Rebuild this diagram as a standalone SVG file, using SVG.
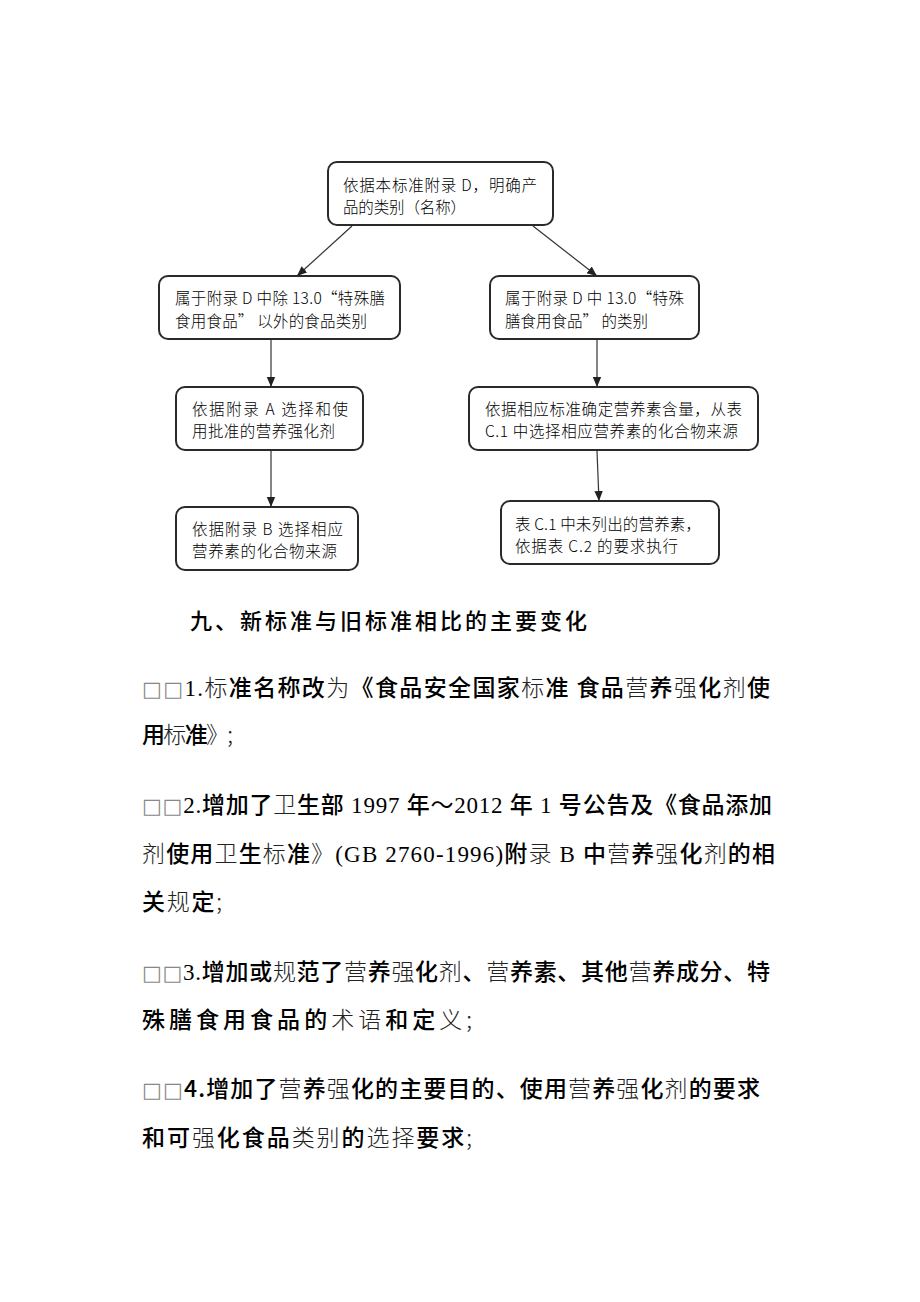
<svg xmlns="http://www.w3.org/2000/svg" width="920" height="1302" viewBox="0 0 920 1302">
<defs>
<marker id="ah" markerUnits="userSpaceOnUse" markerWidth="10" markerHeight="10" viewBox="0 0 10 10" refX="10" refY="5" orient="auto">
<path d="M0,0.8 L10,5 L0,9.2 Z" fill="#222"/>
</marker>
<style>
.box{fill:#fff;stroke:#2a2a2a;stroke-width:2}
.nt{font-family:"Noto Sans CJK SC","Liberation Sans",sans-serif;font-size:15.5px;font-weight:300;fill:#000}
.con{stroke:#333;stroke-width:1.2;fill:none;marker-end:url(#ah)}
.body{font-family:"Noto Sans CJK SC","Liberation Sans",sans-serif;font-size:23px;fill:#000}
.b{font-weight:500}
.t{font-weight:300;fill:#222}
.s{font-family:"Liberation Serif","Noto Sans CJK SC",serif;font-weight:400}
.q{font-family:"DejaVu Sans",sans-serif;font-size:21px;fill:#888}
</style>
</defs>
<rect width="920" height="1302" fill="#fff"/>

<g id="connectors">
<line class="con" x1="352" y1="226" x2="297" y2="276"/>
<line class="con" x1="533" y1="226" x2="597" y2="276"/>
<line class="con" x1="271" y1="340" x2="271" y2="387"/>
<line class="con" x1="597" y1="340" x2="597" y2="387"/>
<line class="con" x1="271" y1="451" x2="271" y2="507"/>
<line class="con" x1="597" y1="451" x2="599" y2="501"/>
</g>

<g id="n-top">
<rect class="box" x="328" y="162" width="225" height="63" rx="9"/>
<text class="nt" x="343" y="191" textLength="194" lengthAdjust="spacing">依据本标准附录 D，明确产</text>
<text class="nt" x="343" y="213" textLength="123" lengthAdjust="spacing">品的类别（名称）</text>
</g>

<g id="n-left2">
<rect class="box" x="159" y="276" width="241" height="63" rx="9"/>
<text class="nt" x="175" y="304" textLength="210" lengthAdjust="spacing">属于附录 D 中除 13.0“特殊膳</text>
<text class="nt" x="175" y="327" textLength="192" lengthAdjust="spacing">食用食品” 以外的食品类别</text>
</g>

<g id="n-right2">
<rect class="box" x="490" y="276" width="209" height="63" rx="9"/>
<text class="nt" x="505" y="304" textLength="179" lengthAdjust="spacing">属于附录 D 中 13.0“特殊</text>
<text class="nt" x="505" y="327" textLength="143" lengthAdjust="spacing">膳食用食品” 的类别</text>
</g>

<g id="n-left3">
<rect class="box" x="176" y="387" width="187" height="63" rx="9"/>
<text class="nt" x="192" y="415" font-size="15" textLength="156" lengthAdjust="spacing">依据附录 A 选择和使</text>
<text class="nt" x="192" y="437" font-size="15" textLength="143" lengthAdjust="spacing">用批准的营养强化剂</text>
</g>

<g id="n-right3">
<rect class="box" x="469" y="387" width="289" height="63" rx="9"/>
<text class="nt" x="485" y="415" font-size="15" textLength="257" lengthAdjust="spacing">依据相应标准确定营养素含量，从表</text>
<text class="nt" x="485" y="437" font-size="15" textLength="253" lengthAdjust="spacing">C.1 中选择相应营养素的化合物来源</text>
</g>

<g id="n-left4">
<rect class="box" x="176" y="507" width="182" height="63" rx="9"/>
<text class="nt" x="192" y="535" font-size="15" textLength="151" lengthAdjust="spacing">依据附录 B 选择相应</text>
<text class="nt" x="192" y="557" font-size="15" textLength="145" lengthAdjust="spacing">营养素的化合物来源</text>
</g>

<g id="n-right4">
<rect class="box" x="501" y="501" width="218" height="63" rx="9"/>
<text class="nt" x="515" y="530" font-size="15" textLength="186" lengthAdjust="spacing">表 C.1 中未列出的营养素，</text>
<text class="nt" x="515" y="552" font-size="15" textLength="163" lengthAdjust="spacing">依据表 C.2 的要求执行</text>
</g>

<g id="body-text" class="body">
<text class="b" x="190" y="629" font-size="22" textLength="397" lengthAdjust="spacing">九、新标准与旧标准相比的主要变化</text>

<text x="142" y="696" textLength="628" lengthAdjust="spacing"><tspan class="q">□□</tspan><tspan class="s">1.</tspan><tspan class="t">标</tspan><tspan class="b">准名称改</tspan><tspan class="t">为</tspan><tspan class="b">《食品安全国家</tspan><tspan class="t">标</tspan><tspan class="b">准 食品</tspan><tspan class="t">营</tspan><tspan class="b">养</tspan><tspan class="t">强</tspan><tspan class="b">化</tspan><tspan class="t">剂</tspan><tspan class="b">使</tspan></text>
<text x="142" y="743" textLength="91" lengthAdjust="spacing"><tspan class="b">用</tspan><tspan class="t">标</tspan><tspan class="b">准</tspan><tspan class="t">》;</tspan></text>

<text x="142" y="813" textLength="630" lengthAdjust="spacing"><tspan class="q">□□</tspan><tspan class="s">2.</tspan><tspan class="b">增加了</tspan><tspan class="t">卫</tspan><tspan class="b">生部</tspan><tspan class="s"> 1997 </tspan><tspan class="b">年</tspan><tspan class="s">～2012 </tspan><tspan class="b">年</tspan><tspan class="s"> 1 </tspan><tspan class="b">号公告及《食品添加</tspan></text>
<text x="142" y="862" textLength="633" lengthAdjust="spacing"><tspan class="t">剂</tspan><tspan class="b">使用</tspan><tspan class="t">卫</tspan><tspan class="b">生</tspan><tspan class="t">标</tspan><tspan class="b">准</tspan><tspan class="t">》</tspan><tspan class="s">(GB 2760-1996)</tspan><tspan class="b">附</tspan><tspan class="t">录</tspan><tspan class="s"> B </tspan><tspan class="b">中</tspan><tspan class="t">营</tspan><tspan class="b">养</tspan><tspan class="t">强</tspan><tspan class="b">化</tspan><tspan class="t">剂</tspan><tspan class="b">的相</tspan></text>
<text x="142" y="910" textLength="80" lengthAdjust="spacing"><tspan class="b">关</tspan><tspan class="t">规</tspan><tspan class="b">定</tspan><tspan class="t">;</tspan></text>

<text x="142" y="980" textLength="628" lengthAdjust="spacing"><tspan class="q">□□</tspan><tspan class="s">3.</tspan><tspan class="b">增加或</tspan><tspan class="t">规</tspan><tspan class="b">范了</tspan><tspan class="t">营</tspan><tspan class="b">养</tspan><tspan class="t">强</tspan><tspan class="b">化</tspan><tspan class="t">剂</tspan><tspan class="b">、</tspan><tspan class="t">营</tspan><tspan class="b">养素、其他</tspan><tspan class="t">营</tspan><tspan class="b">养成分、特</tspan></text>
<text x="142" y="1028" textLength="330" lengthAdjust="spacing"><tspan class="b">殊膳食用食品的</tspan><tspan class="t">术语</tspan><tspan class="b">和定</tspan><tspan class="t">义;</tspan></text>

<text x="142" y="1097" textLength="618" lengthAdjust="spacing"><tspan class="q">□□</tspan><tspan class="b">4.增加了</tspan><tspan class="t">营</tspan><tspan class="b">养</tspan><tspan class="t">强</tspan><tspan class="b">化的主要目的、使用</tspan><tspan class="t">营</tspan><tspan class="b">养</tspan><tspan class="t">强</tspan><tspan class="b">化</tspan><tspan class="t">剂</tspan><tspan class="b">的要求</tspan></text>
<text x="142" y="1146" textLength="330" lengthAdjust="spacing"><tspan class="b">和可</tspan><tspan class="t">强</tspan><tspan class="b">化食品</tspan><tspan class="t">类别</tspan><tspan class="b">的</tspan><tspan class="t">选择</tspan><tspan class="b">要求</tspan><tspan class="t">;</tspan></text>
</g>
</svg>
